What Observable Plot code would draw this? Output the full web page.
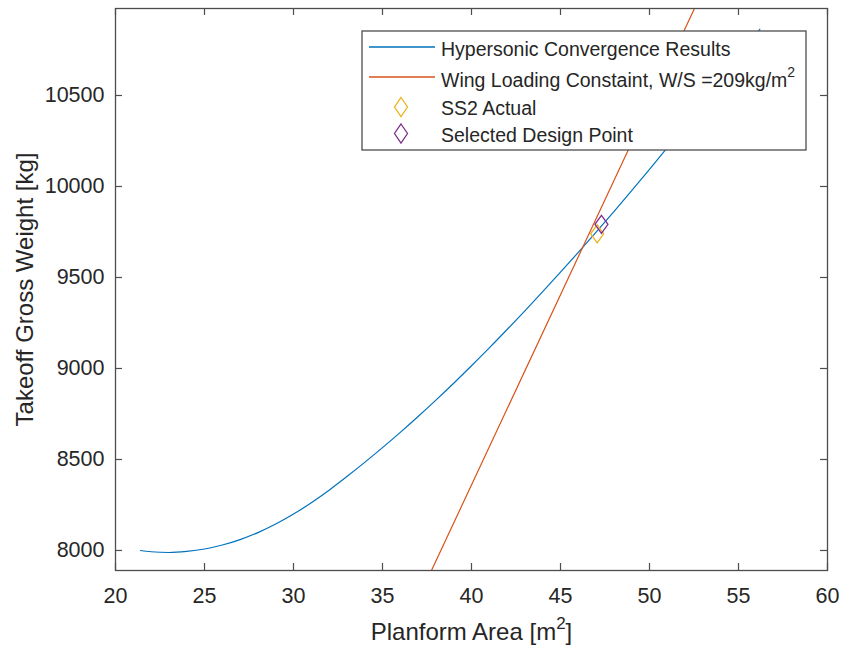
<!DOCTYPE html>
<html>
<head>
<meta charset="utf-8">
<script src="https://cdn.jsdelivr.net/npm/d3@7"></script>
<script src="https://cdn.jsdelivr.net/npm/@observablehq/plot@0.6"></script>
<style>
  body { margin: 0; background: #fff; }
  #chart svg { display: block; }
</style>
</head>
<body>
<div id="chart"></div>
<script>
// ---- Data ----
const hyperS = [21.4, 22, 23, 24, 25, 26, 27, 28, 29, 30, 31, 32, 33, 34, 35, 36, 37, 38, 39, 40,
                41, 42, 43, 44, 45, 46, 47, 48, 49, 50, 51, 52, 53, 54, 55, 56, 56.2];
const hyperW = [8000, 7993, 7989, 7995, 8008, 8030, 8060, 8098, 8145, 8200, 8262, 8331, 8406, 8484,
                8565, 8649, 8736, 8826, 8919, 9015, 9113, 9214, 9317, 9422, 9529, 9638, 9749, 9862,
                9977, 10094, 10213, 10334, 10457, 10582, 10709, 10838, 10864];
const wingS = [37, 53];
const wingW = [7733, 11077];
const ss2S = [47.06];
const ss2W = [9740];
const designS = [47.3];
const designW = [9792];
const xTicks = [20, 25, 30, 35, 40, 45, 50, 55, 60];
const yTicks = [8000, 8500, 9000, 9500, 10000, 10500];
const seriesNames = ["Hypersonic Convergence Results", "Wing Loading Constaint, W/S =209kg/m", "SS2 Actual", "Selected Design Point"];
const seriesColors = ["#0072BD", "#D95319", "#EDB120", "#7E2F8E"];
const xLabel = "Planform Area [m²]";
const yLabel = "Takeoff Gross Weight [kg]";

// ---- Layout ----
const W = 841, H = 648;
const mL = 115, mR = 14, mT = 8, mB = 78;
const plotW = W - mL - mR, plotH = H - mT - mB;
const tickLen = 7;
const axisColor = "#4d4d4d";
const textColor = "#262626";
const font = "'Liberation Sans', Arial, Helvetica, sans-serif";

const hyper = hyperS.map((s, i) => ({s, w: hyperW[i]}));
const wing = wingS.map((s, i) => ({s, w: wingW[i]}));
const ss2 = ss2S.map((s, i) => ({s, w: ss2W[i]}));
const design = designS.map((s, i) => ({s, w: designW[i]}));

const diamond = {
  draw(ctx) {
    ctx.moveTo(0, -9);
    ctx.lineTo(6.5, 0);
    ctx.lineTo(0, 9);
    ctx.lineTo(-6.5, 0);
    ctx.closePath();
  }
};

const chart = Plot.plot({
  width: W, height: H,
  marginLeft: mL, marginRight: mR, marginTop: mT, marginBottom: mB,
  style: {fontFamily: font, background: "#fff", color: textColor},
  x: {domain: [20, 60]},
  y: {domain: [7890, 10978]},
  marks: [
    Plot.line(hyper, {x: "s", y: "w", stroke: seriesColors[0], strokeWidth: 1.2, curve: "monotone-x"}),
    Plot.line(wing, {x: "s", y: "w", stroke: seriesColors[1], strokeWidth: 1.2, clip: true}),
    Plot.dot(ss2, {x: "s", y: "w", symbol: diamond, fill: "none", stroke: seriesColors[2], strokeWidth: 1.3}),
    Plot.dot(design, {x: "s", y: "w", symbol: diamond, fill: "none", stroke: seriesColors[3], strokeWidth: 1.3}),
    Plot.frame({stroke: axisColor, strokeWidth: 1.3}),
    // inward ticks on all four sides
    Plot.ruleX(xTicks, {x: d => d, insetTop: plotH - tickLen, stroke: axisColor, strokeWidth: 1.2}),
    Plot.ruleX(xTicks, {x: d => d, insetBottom: plotH - tickLen, stroke: axisColor, strokeWidth: 1.2}),
    Plot.ruleY(yTicks, {y: d => d, insetRight: plotW - tickLen, stroke: axisColor, strokeWidth: 1.2}),
    Plot.ruleY(yTicks, {y: d => d, insetLeft: plotW - tickLen, stroke: axisColor, strokeWidth: 1.2}),
    Plot.axisX(xTicks, {tickSize: 0, tickPadding: 17, fontSize: 21.5, fill: textColor, label: null, tickFormat: d => String(d)}),
    Plot.axisY(yTicks, {tickSize: 0, tickPadding: 11, fontSize: 21.5, fill: textColor, label: null, tickFormat: d => String(d)}),
    Plot.text([xLabel], {frameAnchor: "bottom", textAnchor: "middle", dy: 62, lineAnchor: "middle", fontSize: 24, fill: textColor}),
    Plot.text([yLabel], {frameAnchor: "left", textAnchor: "middle", rotate: -90, dx: -90, lineAnchor: "middle", fontSize: 24, fill: textColor})
  ]
});

document.getElementById("chart").appendChild(chart);

const svg = d3.select(chart);

// raise the superscript of the x-axis label like MATLAB's tex interpreter
svg.selectAll("text").filter(function() { return this.textContent === xLabel; }).each(function() {
  const t = d3.select(this);
  t.text("Planform Area [m");
  t.append("tspan").attr("font-size", 17).attr("dy", -11).text("2");
  t.append("tspan").attr("dy", 11).text("]");
});

// ---- Legend (MATLAB style box, drawn over the lines) ----
const lg = svg.append("g")
  .attr("font-family", font)
  .attr("font-size", 19.5)
  .attr("text-anchor", "start")
  .style("text-anchor", "start");
lg.append("rect").attr("x", 362).attr("y", 31).attr("width", 444).attr("height", 119)
  .attr("fill", "#ffffff").style("fill", "#ffffff").style("fill-opacity", 1)
  .attr("stroke", axisColor).attr("stroke-width", 1.3);
const rowsY = [47, 77, 107, 133.5];
const textBase = [55.5, 86.5, 114.5, 141.5];
[0, 1].forEach(i => {
  lg.append("line").attr("x1", 369).attr("x2", 435).attr("y1", rowsY[i]).attr("y2", rowsY[i])
    .attr("stroke", seriesColors[i]).attr("stroke-width", 1.3);
});
[2, 3].forEach(i => {
  lg.append("path").attr("transform", `translate(401,${rowsY[i]})`)
    .attr("d", "M0,-9.5L6.5,0L0,9.5L-6.5,0Z")
    .style("fill", "none").attr("stroke", seriesColors[i]).attr("stroke-width", 1.3);
});
seriesNames.forEach((name, i) => {
  const t = lg.append("text").attr("x", 441).attr("y", textBase[i])
    .style("fill", textColor).style("text-anchor", "start").text(name);
  if (i === 1) {
    t.append("tspan").attr("font-size", 14).attr("dy", -10).text("2");
  }
});
</script>
</body>
</html>
